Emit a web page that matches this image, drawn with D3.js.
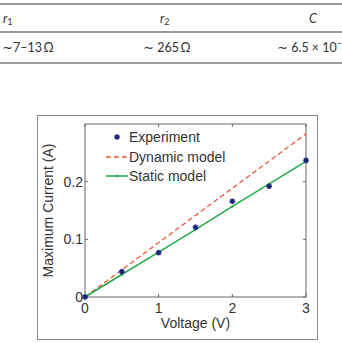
<!DOCTYPE html>
<html>
<head>
<meta charset="utf-8">
<script src="https://cdn.jsdelivr.net/npm/d3@7"></script>
<style>
  body { margin: 0; background: #fff; }
  svg { display: block; }
</style>
</head>
<body>
<svg id="chart" width="342" height="343"></svg>
<script>
// table above the figure
var tableHeaders = ['r1', 'r2', 'C'];
var tableValues = ['\u223C7\u201313\u2009\u03A9', '\u223C 265\u2009\u03A9', '\u223C 6.5 \u00D7 10'];

// chart data
var voltage = [0, 0.5, 1, 1.5, 2, 2.5, 3];
var experiment = [0, 0.044, 0.077, 0.121, 0.166, 0.192, 0.237];
var staticModel = [0, 0.039, 0.078, 0.117, 0.157, 0.196, 0.235];
var dynamicV = [0, 3];
var dynamicI = [0, 0.283];
var xTicks = [0, 1, 2, 3];
var yTicks = [0, 0.1, 0.2];
var legendNames = ['Experiment', 'Dynamic model', 'Static model'];

var svg = d3.select('#chart');
var font = '"Liberation Sans", Arial, sans-serif';
var tableFont = 'Lato, "Open Sans", sans-serif';

// ---- table ----
var tbl = svg.append('g');
[4, 32, 63].forEach(function(y) {
    tbl.append('line')
        .attr('x1', 0).attr('x2', 342).attr('y1', y).attr('y2', y)
        .style('stroke', '#777').style('stroke-width', 1.3);
});
var headX = [3, 160, 309];
var valX = [2, 143, 277];
tableHeaders.forEach(function(h, i) {
    var t = tbl.append('text')
        .attr('x', headX[i]).attr('y', 23)
        .style('font-family', tableFont).style('font-size', '12.5px')
        .style('font-style', 'italic').style('fill', '#333');
    t.append('tspan').text(h.charAt(0));
    if (h.length > 1) {
        t.append('tspan').attr('dy', 2).style('font-size', '9px')
            .style('font-style', 'normal').text(h.slice(1));
    }
});
tableValues.forEach(function(v, i) {
    var t = tbl.append('text')
        .attr('x', valX[i]).attr('y', 52)
        .style('font-family', tableFont).style('font-size', '12.5px')
        .style('fill', '#333');
    t.append('tspan').text(v);
    if (i === 2) {
        t.append('tspan').attr('dy', -5).style('font-size', '9px').text('\u22123');
    }
});

// ---- figure frame ----
svg.append('rect')
    .attr('x', 37.5).attr('y', 115.5).attr('width', 280).attr('height', 224)
    .style('fill', '#fff').style('stroke', '#888').style('stroke-width', 1);

var plot = { left: 85, top: 124, right: 306, bottom: 297 };
var x = d3.scaleLinear().domain([0, 3]).range([plot.left, plot.right]);
var y = d3.scaleLinear().domain([0, 0.3]).range([plot.bottom, plot.top]);

var g = svg.append('g');

// box
g.append('rect')
    .attr('x', plot.left).attr('y', plot.top)
    .attr('width', plot.right - plot.left).attr('height', plot.bottom - plot.top)
    .style('fill', 'none').style('stroke', '#666').style('stroke-width', 1);

// inward ticks on all sides
var tickLen = 3;
xTicks.forEach(function(t) {
    g.append('line').attr('x1', x(t)).attr('x2', x(t))
        .attr('y1', plot.bottom).attr('y2', plot.bottom - tickLen)
        .style('stroke', '#666');
    g.append('line').attr('x1', x(t)).attr('x2', x(t))
        .attr('y1', plot.top).attr('y2', plot.top + tickLen)
        .style('stroke', '#666');
    g.append('text')
        .attr('x', x(t)).attr('y', plot.bottom + 16)
        .attr('text-anchor', 'middle')
        .style('font-family', font).style('font-size', '14px').style('fill', '#333')
        .text(t);
});
yTicks.forEach(function(t) {
    g.append('line').attr('x1', plot.left).attr('x2', plot.left + tickLen)
        .attr('y1', y(t)).attr('y2', y(t))
        .style('stroke', '#666');
    g.append('line').attr('x1', plot.right).attr('x2', plot.right - tickLen)
        .attr('y1', y(t)).attr('y2', y(t))
        .style('stroke', '#666');
    g.append('text')
        .attr('x', plot.left - 2).attr('y', y(t) + 5)
        .attr('text-anchor', 'end')
        .style('font-family', font).style('font-size', '14px').style('fill', '#333')
        .text(t);
});

// axis labels
g.append('text')
    .attr('x', (plot.left + plot.right) / 2).attr('y', 328)
    .attr('text-anchor', 'middle')
    .style('font-family', font).style('font-size', '14px').style('fill', '#333')
    .text('Voltage (V)');
g.append('text')
    .attr('transform', 'translate(53,' + ((plot.top + plot.bottom) / 2) + ') rotate(-90)')
    .attr('text-anchor', 'middle')
    .style('font-family', font).style('font-size', '14px').style('fill', '#333')
    .text('Maximum Current (A)');

// series
var line = d3.line()
    .x(function(d) { return x(d[0]); })
    .y(function(d) { return y(d[1]); });

var red = '#ee5533', green = '#22aa44', blue = '#1a237e';

g.append('path')
    .datum(dynamicV.map(function(v, i) { return [v, dynamicI[i]]; }))
    .attr('d', line)
    .style('fill', 'none').style('stroke', red).style('stroke-width', 1.3)
    .style('stroke-dasharray', '5,3');

var staticPts = voltage.map(function(v, i) { return [v, staticModel[i]]; });
g.append('path')
    .datum(staticPts)
    .attr('d', line)
    .style('fill', 'none').style('stroke', green).style('stroke-width', 1.5);
g.selectAll('.sdot').data(staticPts).enter().append('circle')
    .attr('class', 'sdot')
    .attr('cx', function(d) { return x(d[0]); })
    .attr('cy', function(d) { return y(d[1]); })
    .attr('r', 1.3).style('fill', green);

// experiment markers: thin plus + x star
var expPts = voltage.map(function(v, i) { return [v, experiment[i]]; });
function drawStar(sel) {
    [0, 45].forEach(function(rot) {
        sel.append('line').attr('x1', -2.8).attr('x2', 2.8).attr('y1', 0).attr('y2', 0)
            .attr('transform', 'rotate(' + rot + ')')
            .style('stroke', blue).style('stroke-width', 1.6);
        sel.append('line').attr('x1', 0).attr('x2', 0).attr('y1', -2.8).attr('y2', 2.8)
            .attr('transform', 'rotate(' + rot + ')')
            .style('stroke', blue).style('stroke-width', 1.6);
    });
}
g.selectAll('.exp').data(expPts).enter().append('g')
    .attr('class', 'exp')
    .attr('transform', function(d) { return 'translate(' + x(d[0]) + ',' + y(d[1]) + ')'; })
    .each(function() { drawStar(d3.select(this)); });

// legend
var legY = [137, 157, 176];
var leg = g.append('g');
legendNames.forEach(function(name, i) {
    var ly = legY[i];
    if (i === 0) {
        drawStar(leg.append('g').attr('transform', 'translate(117,' + ly + ')'));
    } else if (i === 1) {
        leg.append('line').attr('x1', 106).attr('x2', 128).attr('y1', ly).attr('y2', ly)
            .style('stroke', red).style('stroke-width', 1.3).style('stroke-dasharray', '5,3');
    } else {
        leg.append('line').attr('x1', 106).attr('x2', 128).attr('y1', ly).attr('y2', ly)
            .style('stroke', green).style('stroke-width', 1.5);
        leg.append('circle').attr('cx', 117).attr('cy', ly).attr('r', 1.3).style('fill', green);
    }
    leg.append('text')
        .attr('x', 129).attr('y', ly + 5)
        .style('font-family', font).style('font-size', '14px').style('fill', '#333')
        .text(name);
});
</script>
</body>
</html>
